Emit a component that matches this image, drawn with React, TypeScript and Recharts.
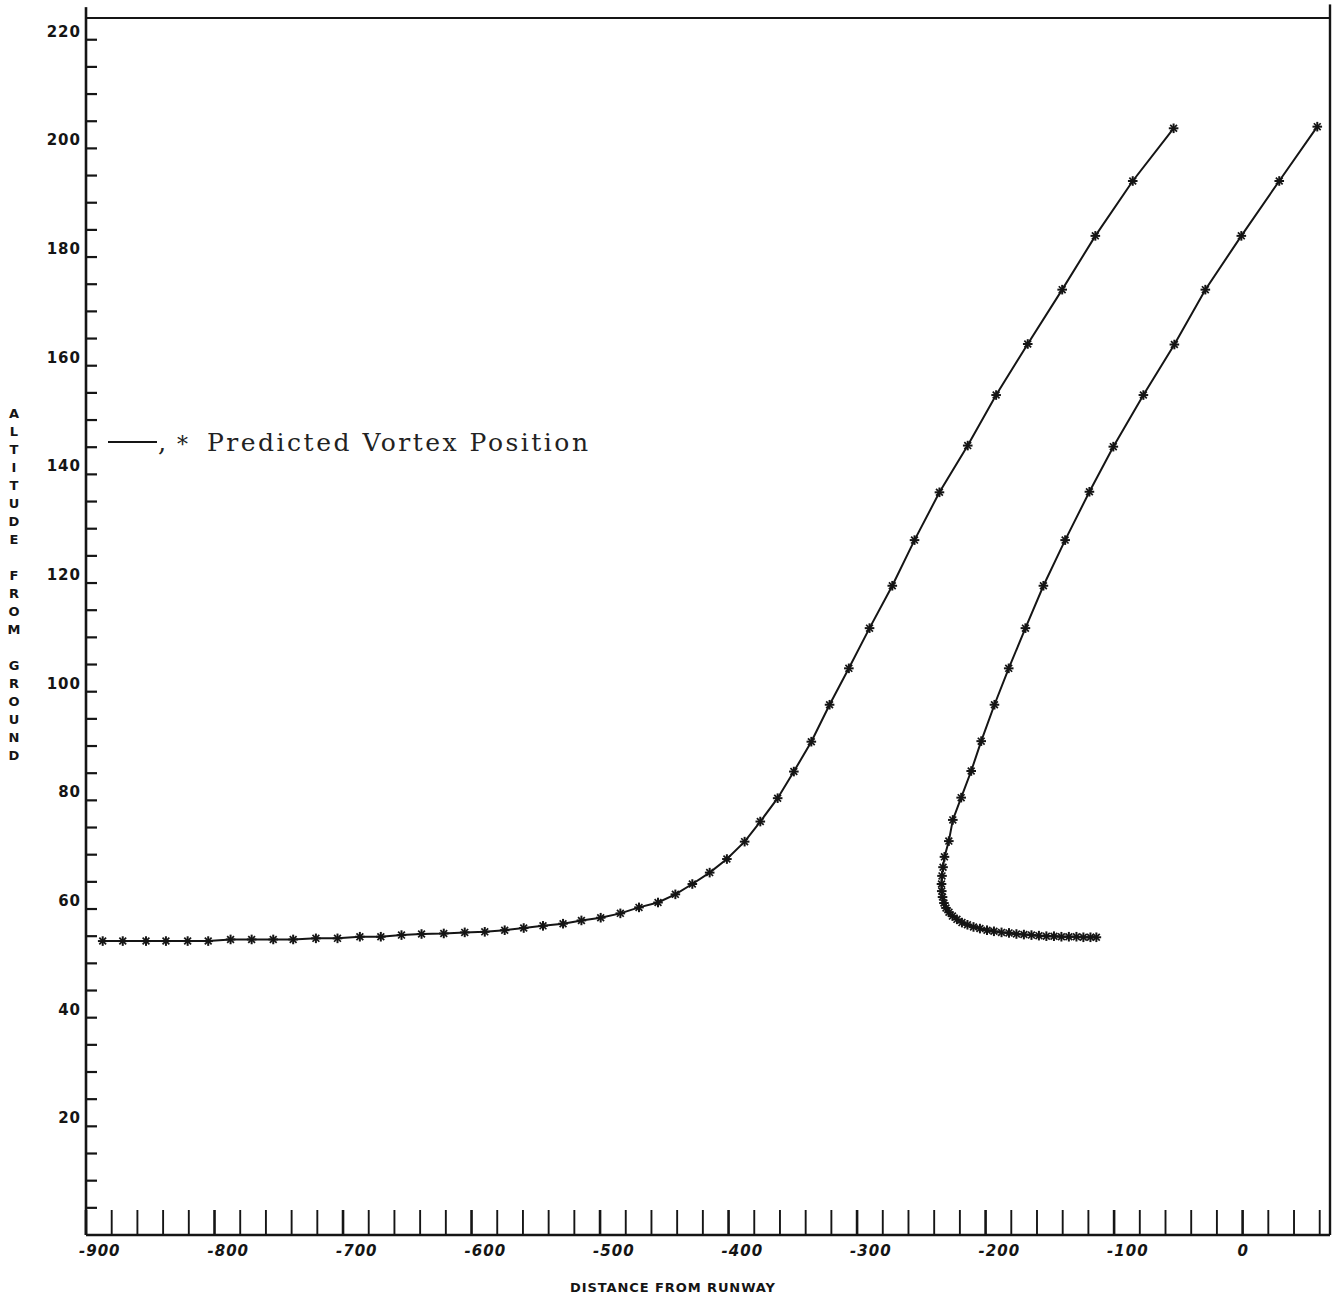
import React from 'react';
import { LineChart, Line, XAxis, YAxis, ReferenceLine, Customized } from 'recharts';

// Predicted vortex track nearer the approach path (distance, altitude)
const leftDistance = [
  -887.0, -871.4, -853.3, -837.8, -820.9, -804.9, -787.5, -771.1, -754.3, -738.8,
  -721.1, -704.3, -686.9, -670.6, -654.5, -638.9, -621.6, -605.3, -589.7, -574.2,
  -559.4, -544.4, -528.8, -514.5, -499.5, -484.2, -469.7, -454.9, -441.4, -428.2,
  -414.7, -401.3, -387.5, -375.3, -361.8, -349.2, -335.6, -321.4, -306.4, -290.3,
  -272.6, -255.3, -235.9, -213.9, -191.8, -167.2, -140.4, -114.6, -85.5, -53.7,
];
const leftAltitude = [
  54.1, 54.1, 54.1, 54.1, 54.1, 54.1, 54.4, 54.4, 54.4, 54.4,
  54.6, 54.6, 54.9, 54.9, 55.2, 55.4, 55.5, 55.7, 55.8, 56.1,
  56.5, 56.9, 57.3, 57.9, 58.4, 59.2, 60.3, 61.2, 62.7, 64.6,
  66.7, 69.2, 72.4, 76.1, 80.4, 85.3, 90.8, 97.6, 104.3, 111.7,
  119.5, 127.9, 136.7, 145.3, 154.6, 164.0, 174.0, 183.9, 194.0, 203.7,
];

// Second predicted vortex track, curling in near the ground
const rightDistance = [
  58.1, 28.5, -1.0, -29.0, -53.1, -77.2, -100.6, -119.2, -138.1, -155.0,
  -169.0, -182.0, -193.1, -203.4, -211.2, -219.0, -225.5, -228.6, -232.0, -233.1,
  -233.9, -234.3, -234.1, -233.5, -232.4, -230.8, -228.5, -225.8, -222.3, -218.4,
  -214.1, -209.4, -204.4, -198.9, -193.5, -187.6, -181.8, -176.0, -170.2, -164.3,
  -158.5, -152.7, -146.8, -141.0, -135.2, -129.3, -123.9, -118.4, -113.8,
];
const rightAltitude = [
  204.0, 194.0, 183.9, 174.0, 163.9, 154.6, 145.1, 136.8, 127.9, 119.5,
  111.7, 104.3, 97.6, 90.9, 85.4, 80.5, 76.4, 72.5, 69.6, 67.7,
  66.1, 64.6, 63.3, 62.2, 61.1, 60.2, 59.4, 58.7, 58.1, 57.5,
  57.1, 56.7, 56.4, 56.1, 55.9, 55.7, 55.6, 55.4, 55.3, 55.2,
  55.1, 55.0, 55.0, 54.9, 54.9, 54.9, 54.8, 54.8, 54.8,
];

const xTicks = [
  -900, -880, -860, -840, -820, -800, -780, -760, -740, -720,
  -700, -680, -660, -640, -620, -600, -580, -560, -540, -520,
  -500, -480, -460, -440, -420, -400, -380, -360, -340, -320,
  -300, -280, -260, -240, -220, -200, -180, -160, -140, -120,
  -100, -80, -60, -40, -20, 0, 20, 40, 60,
];
const xLabels = [-900, -800, -700, -600, -500, -400, -300, -200, -100, 0];

const yTicks = [
  5, 10, 15, 20, 25, 30, 35, 40, 45, 50, 55, 60, 65, 70, 75, 80, 85, 90, 95, 100,
  105, 110, 115, 120, 125, 130, 135, 140, 145, 150, 155, 160, 165, 170, 175, 180,
  185, 190, 195, 200, 205, 210, 215, 220,
];
const yLabels = [20, 40, 60, 80, 100, 120, 140, 160, 180, 200, 220];

const xDomain = [-900, 68];
const yDomain = [0, 224];

const legendText = 'Predicted Vortex Position';
const xTitle = 'DISTANCE FROM RUNWAY';
const yTitle = 'ALTITUDE FROM GROUND';

const leftTrack = leftDistance.map((x, i) => ({ x, y: leftAltitude[i] }));
const rightTrack = rightDistance.map((x, i) => ({ x, y: rightAltitude[i] }));

const INK = '#151515';
const PLOT_FONT = '"DejaVu Sans", sans-serif';

const Asterisk = (props: any) => {
  const { cx, cy, key } = props;
  if (cx == null || cy == null) return null;
  const r = 4.8;
  const d = 3.4;
  return (
    <g key={key}>
      <line x1={cx - r} y1={cy} x2={cx + r} y2={cy} stroke={INK} strokeWidth={2} />
      <line x1={cx} y1={cy - r} x2={cx} y2={cy + r} stroke={INK} strokeWidth={2} />
      <line x1={cx - d} y1={cy - d} x2={cx + d} y2={cy + d} stroke={INK} strokeWidth={1.7} />
      <line x1={cx - d} y1={cy + d} x2={cx + d} y2={cy - d} stroke={INK} strokeWidth={1.7} />
    </g>
  );
};

const XTick = (props: any) => {
  const { x, y, payload } = props;
  const v = payload.value;
  const major = xLabels.includes(v);
  return (
    <g>
      <line x1={x} y1={y} x2={x} y2={y - 25} stroke={INK} strokeWidth={major ? 2.6 : 1.9} />
      {major && (
        <text
          x={v < 0 ? x - 7 : x}
          y={y + 21}
          textAnchor={v < 0 ? 'start' : 'middle'}
          fontFamily={PLOT_FONT}
          fontWeight="bold"
          fontSize={15}
          letterSpacing={v < 0 ? 1 : 0}
          fontStyle="italic"
          fill={INK}
        >
          {v}
        </text>
      )}
    </g>
  );
};

const YTick = (props: any) => {
  const { x, y, payload } = props;
  const v = payload.value;
  const labelled = yLabels.includes(v);
  return (
    <g>
      <line x1={x} y1={y} x2={x + 11} y2={y} stroke={INK} strokeWidth={2.2} />
      {labelled && (
        <text
          x={x - 5}
          y={y - 3}
          textAnchor="end"
          fontFamily={PLOT_FONT}
          fontWeight="bold"
          fontSize={15}
          letterSpacing={1}
          fill={INK}
        >
          {v}
        </text>
      )}
    </g>
  );
};

// Legend note, axis titles and frame extensions
const Annotations = () => (
  <g>
    <line x1={108} y1={442} x2={157} y2={442} stroke={INK} strokeWidth={2} />
    <text x={158} y={451} fontFamily='"DejaVu Serif", serif' fontSize={26} fill="#222">,</text>
    <text x={177} y={452} fontFamily='"DejaVu Serif", serif' fontSize={22} fill="#222">*</text>
    <text
      x={207}
      y={451}
      fontFamily='"DejaVu Serif", serif'
      fontSize={25}
      fill="#222"
      textLength={381}
      lengthAdjust="spacing"
    >
      {legendText}
    </text>
    <text
      x={570}
      y={1292}
      fontFamily={PLOT_FONT}
      fontWeight="bold"
      fontSize={13}
      fill={INK}
      textLength={205}
      lengthAdjust="spacing"
    >
      {xTitle}
    </text>
    {yTitle.split('').map((ch, i) => (
      <text
        key={i}
        x={14}
        y={418 + i * 18}
        textAnchor="middle"
        fontFamily={PLOT_FONT}
        fontWeight="bold"
        fontSize={13}
        fill={INK}
      >
        {ch}
      </text>
    ))}
  </g>
);

export default function App() {
  return (
    <div style={{ position: 'absolute', left: 0, top: 0, background: '#fff' }}>
      <LineChart
        width={1342}
        height={1302}
        margin={{ top: 18, right: 12, left: 26, bottom: 17 }}
      >
        <XAxis
          type="number"
          dataKey="x"
          domain={xDomain}
          ticks={xTicks}
          interval={0}
          allowDataOverflow
          height={50}
          tickSize={0}
          tickMargin={0}
          tickLine={false}
          axisLine={{ stroke: INK, strokeWidth: 2.6 }}
          tick={<XTick />}
        />
        <YAxis
          type="number"
          dataKey="y"
          domain={yDomain}
          ticks={yTicks}
          interval={0}
          allowDataOverflow
          width={60}
          tickSize={0}
          tickMargin={0}
          tickLine={false}
          axisLine={{ stroke: INK, strokeWidth: 2.6 }}
          tick={<YTick />}
        />
        <ReferenceLine y={224} stroke={INK} strokeWidth={2.2} />
        <ReferenceLine x={68} stroke={INK} strokeWidth={2.4} />
        <ReferenceLine
          segment={[{ x: -900, y: 224 }, { x: -900, y: 226 }]}
          stroke={INK}
          strokeWidth={2.6}
          ifOverflow="visible"
        />
        <ReferenceLine
          segment={[{ x: 68, y: 224 }, { x: 68, y: 226.5 }]}
          stroke={INK}
          strokeWidth={2.4}
          ifOverflow="visible"
        />
        <Line
          data={leftTrack}
          dataKey="y"
          type="linear"
          stroke={INK}
          strokeWidth={2}
          dot={Asterisk}
          activeDot={false}
          isAnimationActive={false}
        />
        <Line
          data={rightTrack}
          dataKey="y"
          type="linear"
          stroke={INK}
          strokeWidth={2}
          dot={Asterisk}
          activeDot={false}
          isAnimationActive={false}
        />
        <Customized component={Annotations} />
      </LineChart>
    </div>
  );
}
